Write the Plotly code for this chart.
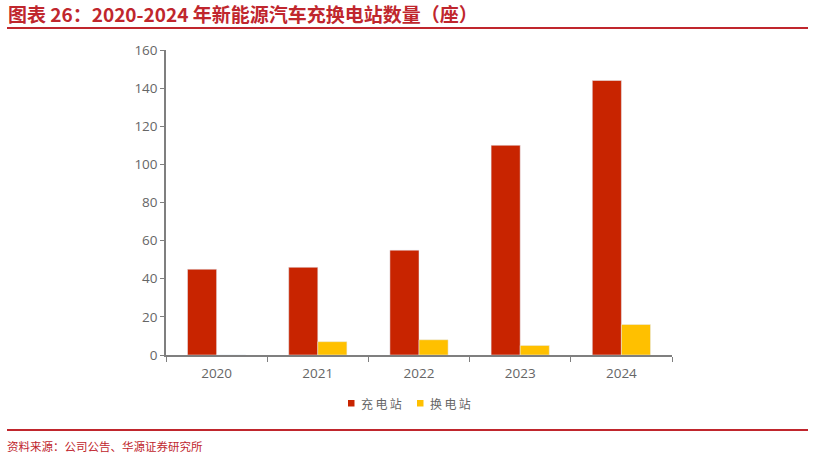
import plotly.graph_objects as go

years = ["2020", "2021", "2022", "2023", "2024"]
charging = [45, 46, 55, 110, 144]
swapping = [0, 7, 8, 5, 16]
series_names = ["充电站", "换电站"]
title_text = "图表 26：2020-2024 年新能源汽车充换电站数量（座）"
source_text = "资料来源：公司公告、华源证券研究所"

RED = "#C82400"
YEL = "#FFC000"
TXT_RED = "#C0262D"

L, R, T, B = 166, 143, 50, 107
W, H = 815, 462
pw, ph = W - L - R, H - T - B

def px_x(x):
    return (x - L) / pw

def px_y(y):
    return (H - B - y) / ph

fig = go.Figure()
colors = [RED, YEL]
for name, vals, c in zip(series_names, [charging, swapping], colors):
    fig.add_trace(go.Bar(x=years, y=vals, name=name, marker_color=c, showlegend=False))

fig.update_layout(
    width=W, height=H,
    margin=dict(l=L, r=R, t=T, b=B, pad=0),
    paper_bgcolor="white", plot_bgcolor="white",
    barmode="group", bargap=0.425, bargroupgap=0,
    font=dict(family="Noto Sans CJK SC, sans-serif", color="#595959", size=13),
    xaxis=dict(showline=True, linecolor="#7F7F7F", linewidth=1.5, ticks="outside",
               tickson="boundaries", ticklen=5, tickcolor="#7F7F7F", showgrid=False,
               ticklabelstandoff=5,
               tickfont=dict(size=13.5, color="#666666", family="Open Sans, sans-serif")),
    yaxis=dict(range=[0, 160], dtick=20, showline=True, linecolor="#7F7F7F", linewidth=1.5,
               ticks="outside", ticklen=4, tickcolor="#7F7F7F", showgrid=False, zeroline=False,
               tickfont=dict(size=13.5, color="#666666", family="Open Sans, sans-serif")),
)

# manual legend
legend_pos = [(348, 359), (417, 428)]
for (sx, tx), name, c in zip(legend_pos, series_names, colors):
    fig.add_shape(type="rect", xref="paper", yref="paper", x0=px_x(sx), x1=px_x(sx + 6.5),
                  y0=px_y(406.5), y1=px_y(400), fillcolor=c, line=dict(width=0))
    fig.add_annotation(text="\u2009".join(name), xref="paper", yref="paper",
                       x=px_x(tx), y=px_y(403), xanchor="left", yanchor="middle", showarrow=False,
                       font=dict(size=12, color="#666666", family="Noto Sans CJK SC"))

fig.add_annotation(text="<b>" + title_text + "</b>", xref="paper", yref="paper",
                   x=px_x(6), y=px_y(14), xanchor="left", yanchor="middle", showarrow=False,
                   font=dict(size=19, color=TXT_RED, family="Noto Sans CJK SC"))
fig.add_annotation(text=source_text, xref="paper", yref="paper",
                   x=px_x(5), y=px_y(446), xanchor="left", yanchor="middle", showarrow=False,
                   font=dict(size=11.5, color=TXT_RED, family="Noto Sans CJK SC"))
for yy in (28, 430):
    fig.add_shape(type="line", xref="paper", yref="paper", x0=px_x(7), x1=px_x(808),
                  y0=px_y(yy), y1=px_y(yy), line=dict(color=TXT_RED, width=2))

fig.write_html("out.html", config={"displayModeBar": False},
               post_script="document.body.style.margin='0';document.body.style.overflow='hidden';")
